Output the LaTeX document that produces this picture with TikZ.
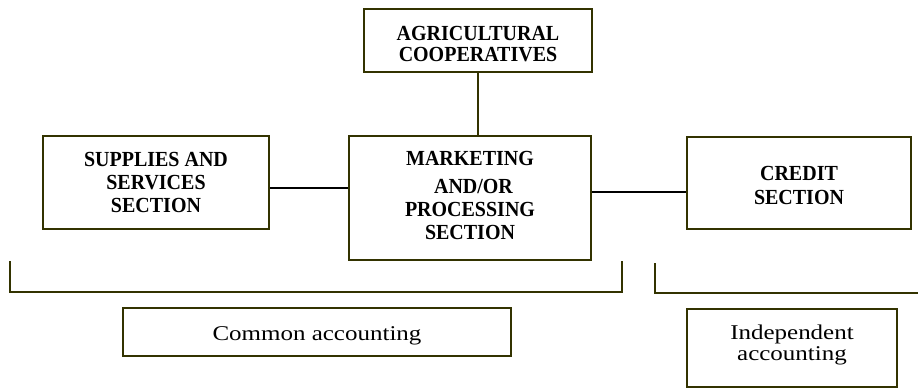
\documentclass[tikz,border=0pt]{standalone}
\usepackage{fontspec}
\setmainfont{Liberation Serif}
\newfontfamily\accfont[FakeStretch=1.19]{Liberation Serif}
\newfontfamily\headfam[FakeStretch=0.93]{Liberation Serif}
\definecolor{olivec}{RGB}{51,51,0}
\tikzset{
  box/.style={draw=olivec, line width=2.2pt, inner sep=0pt, align=center},
  headfont/.style={font=\fontsize{21.5}{#1}\headfam\bfseries},
  accbox/.style={draw=olivec, line width=2.2pt, inner sep=0pt},
  conn/.style={draw=black, line width=2.6pt},
  vconn/.style={draw=olivec, line width=2pt},
  bracket/.style={draw=olivec, line width=2.5pt}
}
\begin{document}
\begin{tikzpicture}[x=1pt,y=-1pt]
\useasboundingbox (0,0) rectangle (918,390);
% boxes
\node[box, headfont=21, minimum width=228pt, minimum height=63pt] (agri) at (478,40.5)
  {\rule{0pt}{21.5pt}AGRICULTURAL\\COOPERATIVES};
\node[box, headfont=23.3, minimum width=226pt, minimum height=93pt] (supplies) at (156,182.5)
  {SUPPLIES AND\\SERVICES\\SECTION};
\node[box, headfont=23, minimum width=242pt, minimum height=124pt] (marketing) at (470,198)
  {MARKETING\\[5.3pt]\hspace*{7pt}AND/OR\\PROCESSING\\SECTION\rule[-5pt]{0pt}{5pt}};
\node[box, headfont=23.6, minimum width=224pt, minimum height=92pt] (credit) at (799,183)
  {\rule{0pt}{19.5pt}CREDIT\\SECTION};
\node[accbox, font=\fontsize{21}{21}\accfont, text height=16pt, text depth=0pt,
  minimum width=388pt, minimum height=48pt] (common) at (317,332) {Common accounting};
\node[box, font=\fontsize{21}{21}\accfont, minimum width=210pt, minimum height=78pt]
  (indep) at (792,348) {Independent\\accounting\rule[-10.6pt]{0pt}{10.6pt}};
% connectors
\draw[vconn] (agri.south) -- (agri.south |- marketing.north);
\draw[conn] ([yshift=-5.5pt]supplies.east) coordinate (s1) -- (s1 -| marketing.west);
\draw[conn] ([yshift=-9pt]credit.west) coordinate (c1) -- (c1 -| marketing.east);
% brackets
\coordinate (lb1) at (10,261);
\coordinate (lb2) at (10,292);
\coordinate (lb3) at (622,292);
\coordinate (lb4) at (622,261);
\draw[bracket] (lb1) -- (lb2) -- (lb3) -- (lb4);
\coordinate (rb1) at (655,263);
\coordinate (rb2) at (655,293);
\coordinate (rb3) at (918,293);
\draw[bracket] (rb1) -- (rb2) -- (rb3);
\end{tikzpicture}
\end{document}
